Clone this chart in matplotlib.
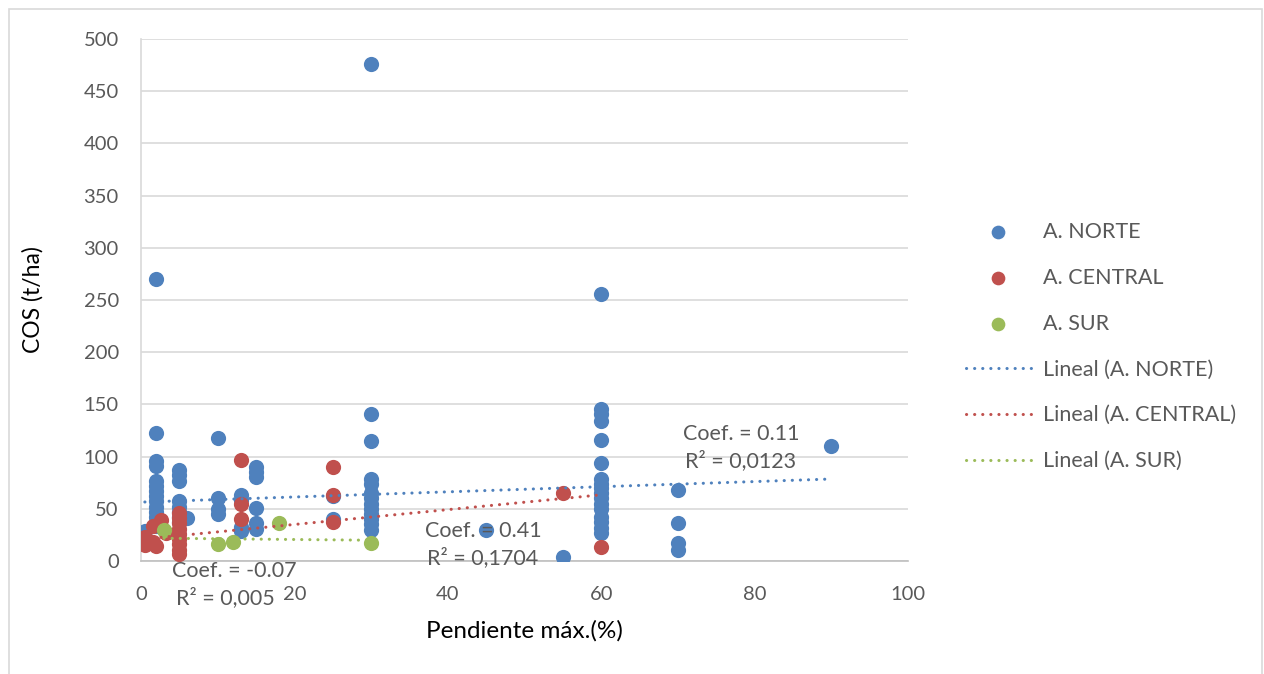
import matplotlib
matplotlib.use("Agg")
from matplotlib import pyplot as plt
from matplotlib.patches import Rectangle
import numpy as np

params = {
    "font.family": ["Lato", "DejaVu Sans"],
    "font.size": 14,
    "text.color": "#595959",
    "xtick.color": "#595959",
    "ytick.color": "#595959",
}
matplotlib.rcParams.update(params)

# A. NORTE
norte_x = [0.5,
           2, 2, 2, 2, 2, 2, 2, 2, 2, 2, 2, 2, 2, 2,
           5, 5, 5, 5, 5, 5, 5, 5, 6,
           10, 10, 10, 10,
           13, 13, 13, 13,
           15, 15, 15, 15, 15, 15,
           25, 25,
           30, 30, 30, 30, 30, 30, 30, 30, 30, 30, 30, 30, 30,
           45, 55,
           60, 60, 60, 60, 60, 60, 60, 60, 60, 60, 60, 60, 60, 60, 60, 60, 60,
           70, 70, 70, 70,
           90]
norte_y = [29,
           270, 123, 96, 91, 77, 72, 67, 62, 57, 52, 47, 42, 37, 34,
           87, 82, 77, 57, 52, 47, 42, 37, 41,
           118, 60, 50, 45,
           63, 58, 33, 29,
           90, 85, 80, 51, 36, 31,
           62, 40,
           476, 141, 115, 79, 74, 65, 60, 55, 50, 45, 40, 35, 30,
           30, 4,
           256, 146, 141, 134, 116, 94, 79, 74, 70, 65, 60, 55, 50, 42, 37, 32, 27,
           68, 36, 17, 11,
           110]

# A. CENTRAL
central_x = [0.5, 0.5, 1.5, 1.5, 2, 2.6, 3.3,
             5, 5, 5, 5, 5, 5, 5, 5, 5,
             13, 13, 13,
             25, 25, 25,
             55, 60]
central_y = [15, 23, 34, 18, 14, 39, 27,
             46, 41, 36, 31, 26, 21, 16, 11, 7,
             97, 55, 40,
             90, 63, 37,
             65, 13]

# A. SUR
sur_x = [3, 10, 12, 18, 30]
sur_y = [30, 16, 18, 36, 17]

# linear trend (intercept, slope) as drawn in the original
trend_norte = [56.4, 0.246]
trend_central = [20.8, 0.71]
trend_sur = [22.0, -0.07]

series = [
    ("A. NORTE", norte_x, norte_y, trend_norte, "#4F81BD"),
    ("A. CENTRAL", central_x, central_y, trend_central, "#C0504D"),
    ("A. SUR", sur_x, sur_y, trend_sur, "#9BBB59"),
]

# trend label lines: text, x, y, horizontal alignment
annotations = [
    ("Coef. = 0.11", 78.2, 121.5, "center"),
    ("R\u00b2 = 0,0123", 78.2, 96, "center"),
    ("Coef. = 0.41", 44.6, 28.5, "center"),
    ("R\u00b2 = 0,1704", 44.6, 3.5, "center"),
    ("Coef. = -0.07", 4.1, -10, "left"),
    ("R\u00b2 = 0,005", 4.5, -35.5, "left"),
]

fig = plt.figure(figsize=(12.64, 6.74), dpi=100)
ax = fig.add_axes([141 / 1264, 1 - 561 / 674, 767 / 1264, 522 / 674])

# outer chart border
fig.patches.append(Rectangle((9 / 1264, -0.1), 1253 / 1264, 1.1 - 9 / 674,
                             transform=fig.transFigure, fill=False,
                             edgecolor="#d9d9d9", lw=1.2))

for name, xs, ys, _, color in series:
    ax.scatter(xs, ys, s=120, color=color, label=name, zorder=3, linewidths=0)

for name, xs, ys, (b0, b1), color in series:
    xx = np.array([min(xs), max(xs)])
    ax.plot(xx, b0 + b1 * xx, color=color, lw=2.2, ls=(0, (0.05, 2.6)),
            dash_capstyle="round", label=f"Lineal ({name})", zorder=4)

for txt, x, y, halign in annotations:
    ax.text(x, y, txt, ha=halign, va="center", fontsize=15.5,
            color="#595959", zorder=5, clip_on=False)

ax.set_xlim(0, 100)
ax.set_ylim(0, 500)
ax.set_xticks(np.arange(0, 101, 20))
ax.set_yticks(np.arange(0, 501, 50))
ax.tick_params(length=0, labelsize=14.5)
ax.tick_params(axis="x", pad=18)
ax.tick_params(axis="y", pad=16)
ax.grid(axis="y", color="#d9d9d9", lw=1.2)
ax.set_axisbelow(True)
for side in ["top", "right"]:
    ax.spines[side].set_visible(False)
ax.spines["left"].set_color("#d9d9d9")
ax.spines["bottom"].set_color("#bfbfbf")
ax.spines["left"].set_linewidth(1.2)
ax.spines["bottom"].set_linewidth(1.2)

ax.set_xlabel("Pendiente máx.(%)", fontsize=17.5, labelpad=12)
ax.set_ylabel("COS (t/ha)", fontsize=16.5, labelpad=29)

hand, lab = ax.get_legend_handles_labels()
fig.legend(handles=hand, labels=lab, loc="upper left",
           bbox_to_anchor=(966 / 1264, 1 - 222 / 674), frameon=False,
           fontsize=15.5, handlelength=3.0, handletextpad=0.56,
           labelspacing=1.2, borderpad=0, borderaxespad=0,
           scatterpoints=1, markerscale=0.9)

plt.savefig("out.png", dpi=100)
